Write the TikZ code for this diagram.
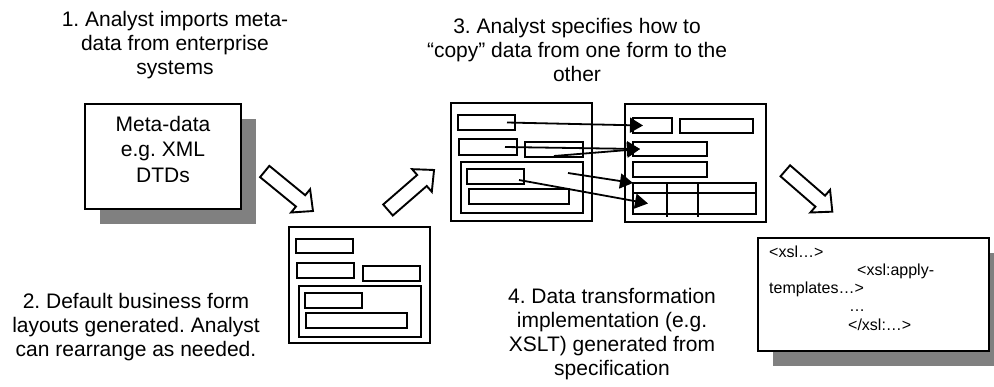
\documentclass[tikz,border=0pt]{standalone}
\usepackage{fontspec}
\setmainfont{Liberation Sans}
\usetikzlibrary{arrows.meta,calc}
\definecolor{shadowgray}{RGB}{128,128,128}
\frenchspacing
\begin{document}
\begin{tikzpicture}[x=1pt,y=-1pt,
  formbox/.style={draw=black,line width=2pt,fill=white,inner sep=0pt,outer sep=0pt},
  field/.style={draw=black,line width=2pt,inner sep=0pt,outer sep=0pt},
  grayshadow/.style={fill=shadowgray,draw=none},
  steptext/.style={align=center,inner sep=0pt,font=\fontsize{21}{24}\selectfont},
  codetext/.style={align=left,inner sep=0pt,font=\fontsize{16}{18.3}\selectfont},
  copyarrow/.style={line width=1.8pt,-{Triangle[length=13pt,width=15pt]}},
  blockline/.style={draw=black,line width=1.9pt,fill=white,line join=miter},
  pics/blockarrow/.style={code={
    \draw[blockline] (0,7.3) -- (#1-16,7.3) -- (#1-16,15) -- (#1,0)
      -- (#1-16,-15) -- (#1-16,-7.3) -- (0,-7.3) -- cycle;}}
]
\useasboundingbox (0,0) rectangle (994,386);
\clip (0,0) rectangle (994,386);

% ---- step captions (base anchor sits on the last line)
\node[steptext,anchor=base] (step1) at (175,74) {1. Analyst imports meta-\\data from enterprise\\systems};
\node[steptext,anchor=base] (step2) at (136,356) {2. Default business form\\layouts generated. Analyst\\can rearrange as needed.};
\node[steptext,anchor=base] (step3) at (577,81) {3. Analyst specifies how to\\“copy” data from one form to the\\other};
\node[steptext,anchor=base] (step4) at (612,375) {4. Data transformation\\implementation (e.g.\\XSLT) generated from\\specification};

% ---- meta-data source
\fill[grayshadow] (100,119) rectangle (256,224);
\node[formbox,minimum width=156,minimum height=105] (meta) at (163,156.5) {};
\node[steptext,anchor=base,font=\fontsize{21}{25.5}\selectfont] (metatext) at (163,182) {Meta-data\\e.g. XML\\DTDs};

% ---- generated form layout
\node[formbox,minimum width=141,minimum height=116] (gen) at (359.5,285) {};
\node[field,minimum width=57,minimum height=14] (g1) at (324.5,246) {};
\node[field,minimum width=57,minimum height=15] (g2) at (325.5,270.5) {};
\node[field,minimum width=57,minimum height=15] (g3) at (391.5,273.5) {};
\node[field,minimum width=122,minimum height=51] (gg) at (360,311.5) {};
\node[field,minimum width=57,minimum height=15] (g4) at (333.5,300.5) {};
\node[field,minimum width=101,minimum height=15] (g5) at (356.5,320.5) {};

% ---- source form
\node[formbox,minimum width=141,minimum height=118] (src) at (521.5,162) {};
\node[field,minimum width=57,minimum height=15] (s1) at (486.5,122.5) {};
\node[field,minimum width=58,minimum height=16] (s2) at (488,147) {};
\node[field,minimum width=58,minimum height=15] (s3) at (554,149.5) {};
\node[field,minimum width=122,minimum height=51] (sg) at (522,187.5) {};
\node[field,minimum width=57,minimum height=15] (s4) at (495.5,176.5) {};
\node[field,minimum width=100,minimum height=15] (s5) at (519,196.5) {};

% ---- target form
\node[formbox,minimum width=141,minimum height=118] (tgt) at (695.5,163) {};
\node[field,minimum width=39,minimum height=15] (t1) at (652.5,125.5) {};
\node[field,minimum width=73,minimum height=14] (t2) at (716.5,126) {};
\node[field,minimum width=74,minimum height=14] (t3) at (670,149) {};
\node[field,minimum width=74,minimum height=15] (t4) at (670,169.5) {};
\node[field,minimum width=123,minimum height=31] (tbl) at (694.5,198.5) {};
\draw[line width=2pt] ([yshift=-10.3pt]tbl.north west) -- ([yshift=-10.3pt]tbl.north east);
\draw[line width=2pt] ([xshift=34.3pt]tbl.north west) -- ++(0,34);
\draw[line width=2pt] ([xshift=65.3pt]tbl.north west) -- ++(0,34);

% ---- copy mappings
\draw[copyarrow] ([xshift=-8pt]s1.east) -- ([xshift=10pt]t1.west);
\draw[copyarrow] ([xshift=-12pt]s2.east) -- ([xshift=7pt]t3.west);
\draw[copyarrow] ([yshift=1pt]s3.south) -- ([xshift=7pt]t3.west);
\draw[copyarrow] ([xshift=-15pt,yshift=-11pt]sg.north east) -- (tbl.north west);
\draw[copyarrow] ([xshift=-5pt,yshift=-3.5pt]s4.east) -- ([xshift=15pt,yshift=-5pt]tbl.west);

% ---- generated XSLT
\fill[grayshadow] (773,253) rectangle (1004,366);
\node[formbox,minimum width=231,minimum height=113] (xsl) at (873.5,294.5) {};
\node[codetext,anchor=base west] (xsltext) at (769,330.2) {<xsl…>\\\hspace*{88pt}<xsl:apply-\\templates…>\\\hspace*{80pt}…\\\hspace*{79pt}</xsl:…>};

% ---- process flow arrows
\pic[rotate=-39.3] at (264.7,171.5) {blockarrow=62.4};
\pic[rotate=41] at (388,210) {blockarrow=61};
\pic[rotate=-41] at (785.3,170.8) {blockarrow=62.3};
\end{tikzpicture}
\end{document}
